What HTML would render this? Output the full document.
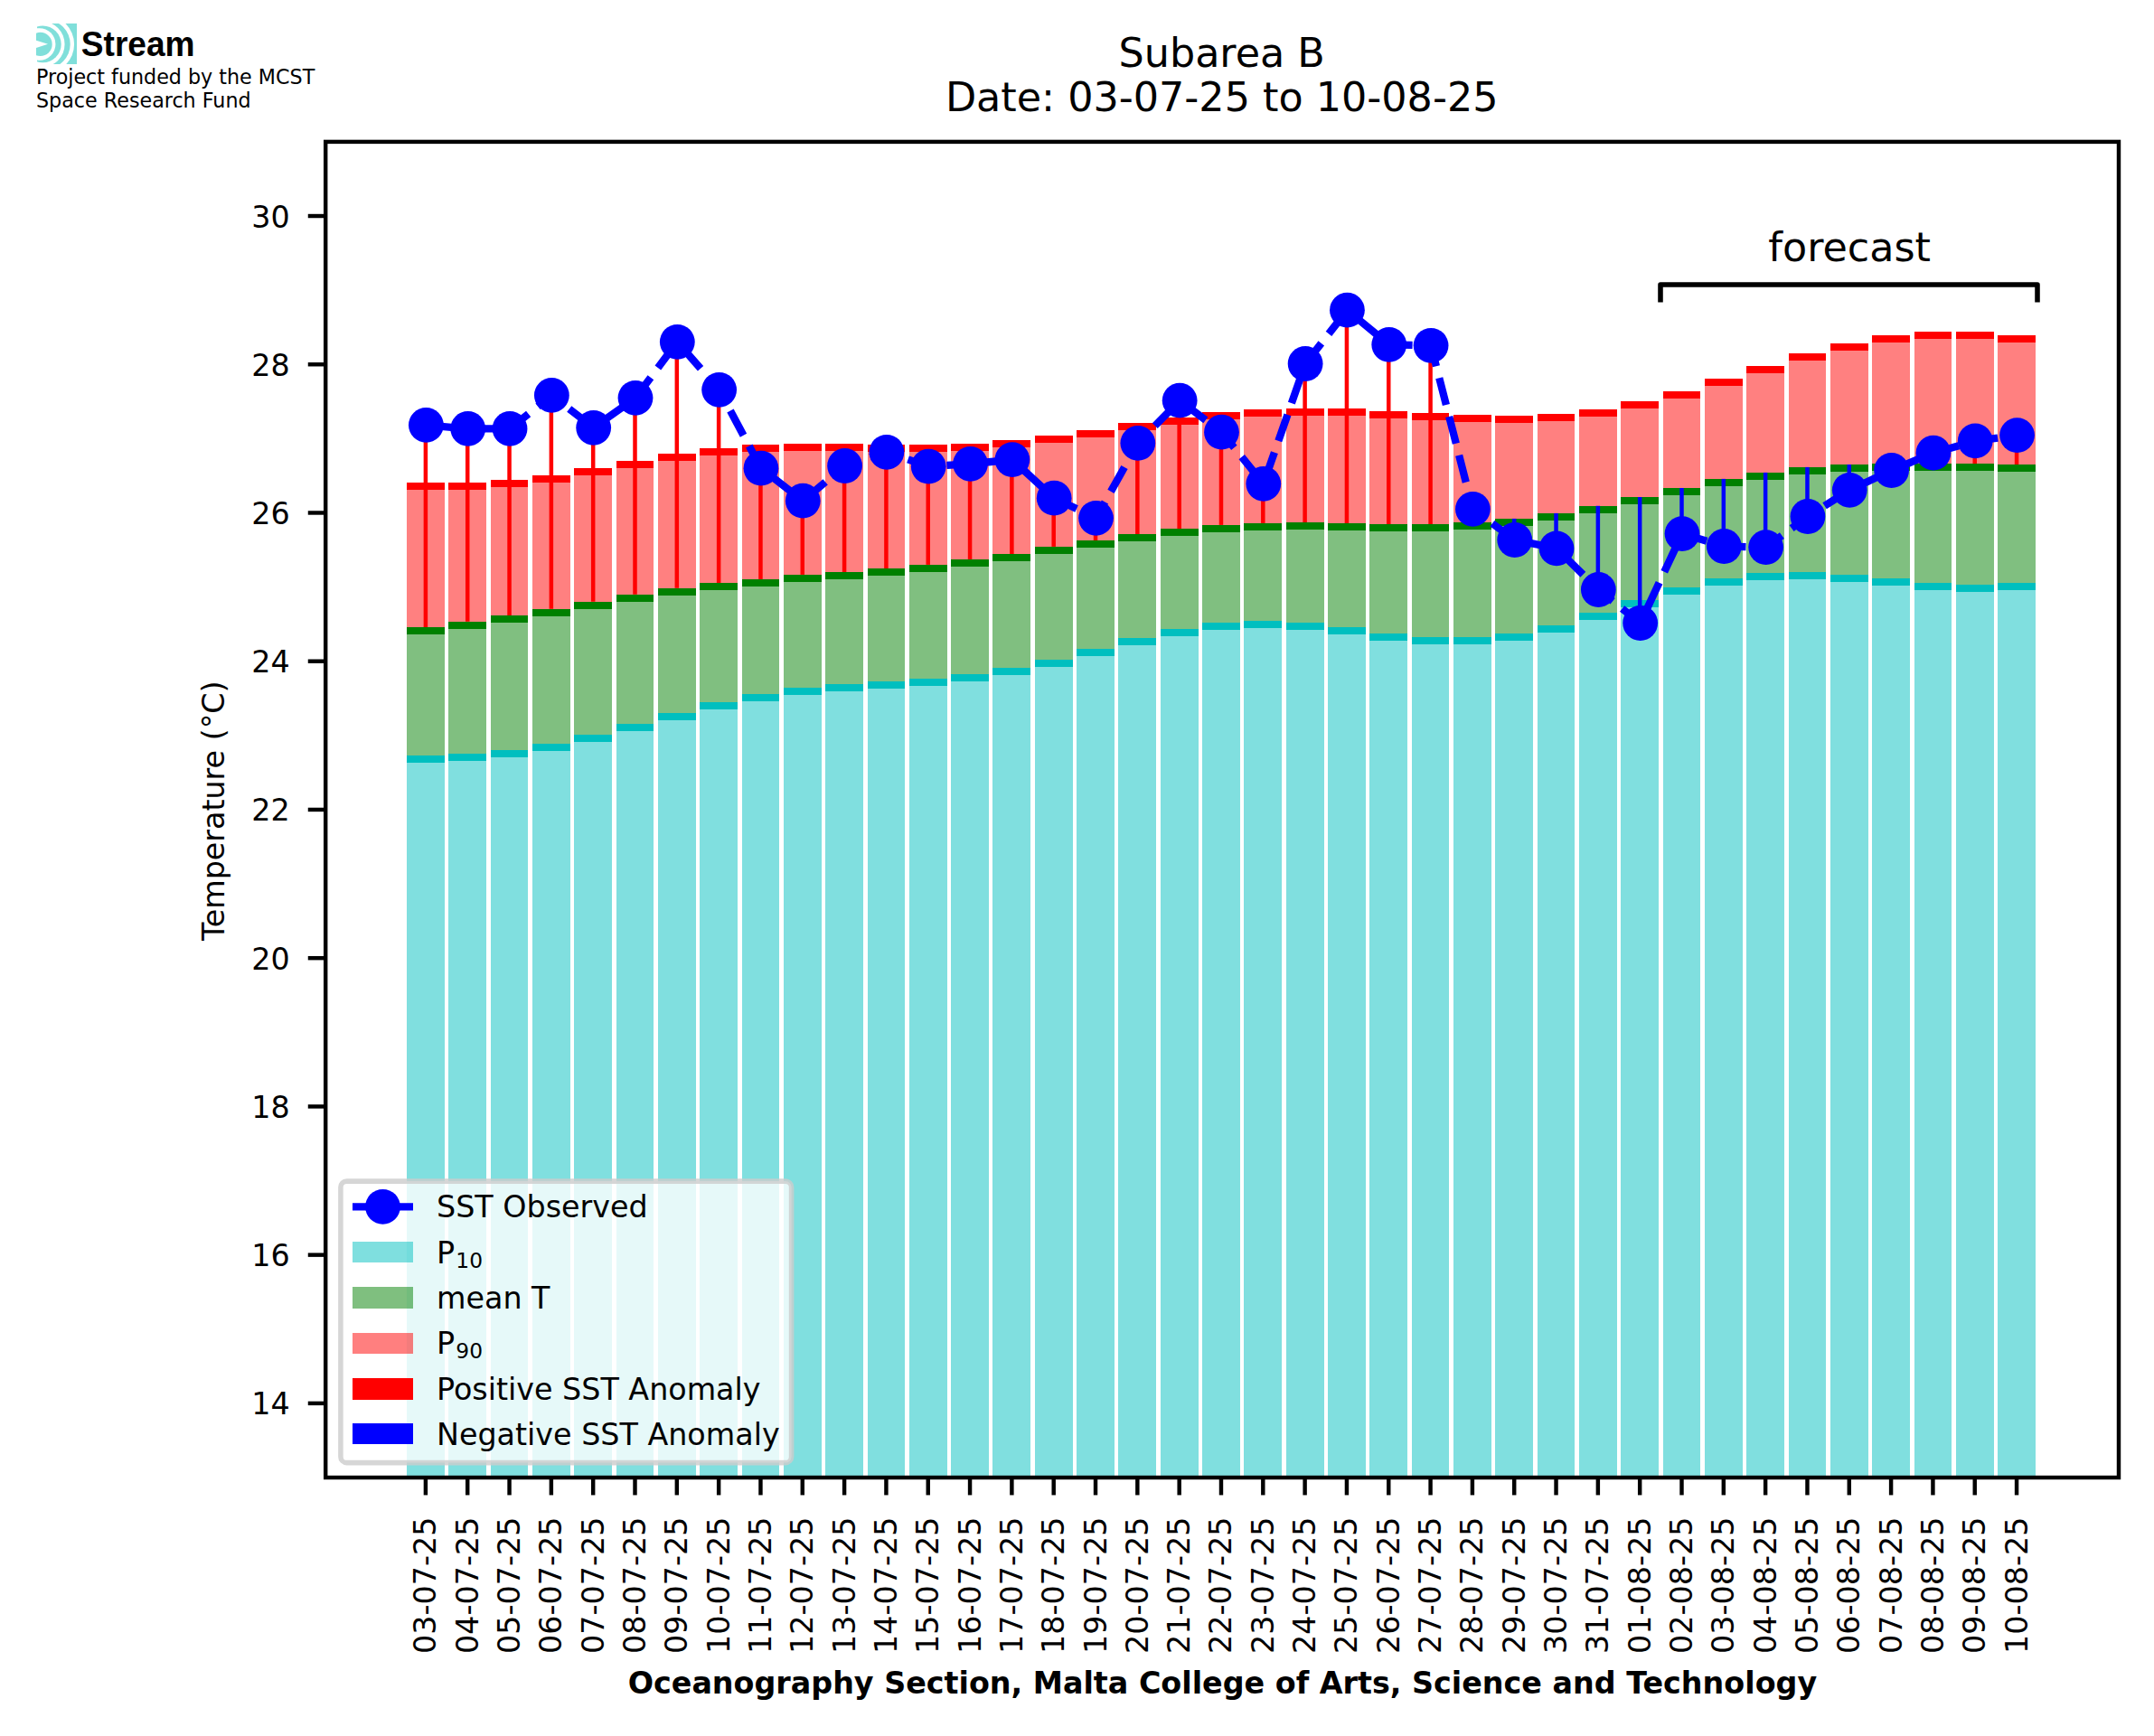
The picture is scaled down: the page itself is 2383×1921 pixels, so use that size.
<!DOCTYPE html>
<html lang="en"><head><meta charset="utf-8"><title>Subarea B SST</title>
<style>html,body{margin:0;padding:0;background:#fff;overflow:hidden}svg{display:block}text{font-family:"DejaVu Sans","Liberation Sans",sans-serif;fill:#000}.t6{font-size:33.33px}.t8{font-size:44.44px}.t4{font-size:22.22px}</style></head><body>
<svg width="2383" height="1921" viewBox="0 0 2383 1921">
<rect width="2383" height="1921" fill="#fff"/>
<defs><clipPath id="ax"><rect x="360.2" y="156.9" width="1983.8" height="1478.1"/></clipPath><clipPath id="lg"><rect x="40.1" y="26" width="44.9" height="45"/></clipPath><clipPath id="lg2"><rect x="40.9" y="26" width="44.1" height="45"/></clipPath></defs>
<g clip-path="url(#ax)" shape-rendering="crispEdges">
<rect x="450.00" y="844.00" width="41.80" height="796.00" fill="#80dfdf"/>
<rect x="450.00" y="835.80" width="41.80" height="8.20" fill="#00bfbf"/>
<rect x="450.00" y="702.10" width="41.80" height="133.70" fill="#80bf80"/>
<rect x="450.00" y="693.90" width="41.80" height="8.20" fill="#008000"/>
<rect x="450.00" y="542.20" width="41.80" height="151.70" fill="#ff8080"/>
<rect x="450.00" y="534.00" width="41.80" height="8.20" fill="#ff0000"/>
<rect x="496.32" y="842.00" width="41.80" height="798.00" fill="#80dfdf"/>
<rect x="496.32" y="833.80" width="41.80" height="8.20" fill="#00bfbf"/>
<rect x="496.32" y="696.00" width="41.80" height="137.80" fill="#80bf80"/>
<rect x="496.32" y="687.80" width="41.80" height="8.20" fill="#008000"/>
<rect x="496.32" y="542.20" width="41.80" height="145.60" fill="#ff8080"/>
<rect x="496.32" y="534.00" width="41.80" height="8.20" fill="#ff0000"/>
<rect x="542.64" y="838.10" width="41.80" height="801.90" fill="#80dfdf"/>
<rect x="542.64" y="829.90" width="41.80" height="8.20" fill="#00bfbf"/>
<rect x="542.64" y="689.30" width="41.80" height="140.60" fill="#80bf80"/>
<rect x="542.64" y="681.10" width="41.80" height="8.20" fill="#008000"/>
<rect x="542.64" y="539.20" width="41.80" height="141.90" fill="#ff8080"/>
<rect x="542.64" y="531.00" width="41.80" height="8.20" fill="#ff0000"/>
<rect x="588.96" y="831.20" width="41.80" height="808.80" fill="#80dfdf"/>
<rect x="588.96" y="823.00" width="41.80" height="8.20" fill="#00bfbf"/>
<rect x="588.96" y="681.90" width="41.80" height="141.10" fill="#80bf80"/>
<rect x="588.96" y="673.70" width="41.80" height="8.20" fill="#008000"/>
<rect x="588.96" y="534.10" width="41.80" height="139.60" fill="#ff8080"/>
<rect x="588.96" y="525.90" width="41.80" height="8.20" fill="#ff0000"/>
<rect x="635.28" y="821.10" width="41.80" height="818.90" fill="#80dfdf"/>
<rect x="635.28" y="812.90" width="41.80" height="8.20" fill="#00bfbf"/>
<rect x="635.28" y="674.00" width="41.80" height="138.90" fill="#80bf80"/>
<rect x="635.28" y="665.80" width="41.80" height="8.20" fill="#008000"/>
<rect x="635.28" y="526.20" width="41.80" height="139.60" fill="#ff8080"/>
<rect x="635.28" y="518.00" width="41.80" height="8.20" fill="#ff0000"/>
<rect x="681.60" y="809.10" width="41.80" height="830.90" fill="#80dfdf"/>
<rect x="681.60" y="800.90" width="41.80" height="8.20" fill="#00bfbf"/>
<rect x="681.60" y="665.90" width="41.80" height="135.00" fill="#80bf80"/>
<rect x="681.60" y="657.70" width="41.80" height="8.20" fill="#008000"/>
<rect x="681.60" y="518.10" width="41.80" height="139.60" fill="#ff8080"/>
<rect x="681.60" y="509.90" width="41.80" height="8.20" fill="#ff0000"/>
<rect x="727.92" y="797.20" width="41.80" height="842.80" fill="#80dfdf"/>
<rect x="727.92" y="789.00" width="41.80" height="8.20" fill="#00bfbf"/>
<rect x="727.92" y="659.00" width="41.80" height="130.00" fill="#80bf80"/>
<rect x="727.92" y="650.80" width="41.80" height="8.20" fill="#008000"/>
<rect x="727.92" y="510.30" width="41.80" height="140.50" fill="#ff8080"/>
<rect x="727.92" y="502.10" width="41.80" height="8.20" fill="#ff0000"/>
<rect x="774.24" y="785.20" width="41.80" height="854.80" fill="#80dfdf"/>
<rect x="774.24" y="777.00" width="41.80" height="8.20" fill="#00bfbf"/>
<rect x="774.24" y="653.10" width="41.80" height="123.90" fill="#80bf80"/>
<rect x="774.24" y="644.90" width="41.80" height="8.20" fill="#008000"/>
<rect x="774.24" y="504.20" width="41.80" height="140.70" fill="#ff8080"/>
<rect x="774.24" y="496.00" width="41.80" height="8.20" fill="#ff0000"/>
<rect x="820.56" y="776.30" width="41.80" height="863.70" fill="#80dfdf"/>
<rect x="820.56" y="768.10" width="41.80" height="8.20" fill="#00bfbf"/>
<rect x="820.56" y="649.10" width="41.80" height="119.00" fill="#80bf80"/>
<rect x="820.56" y="640.90" width="41.80" height="8.20" fill="#008000"/>
<rect x="820.56" y="499.90" width="41.80" height="141.00" fill="#ff8080"/>
<rect x="820.56" y="491.70" width="41.80" height="8.20" fill="#ff0000"/>
<rect x="866.88" y="769.00" width="41.80" height="871.00" fill="#80dfdf"/>
<rect x="866.88" y="760.80" width="41.80" height="8.20" fill="#00bfbf"/>
<rect x="866.88" y="644.10" width="41.80" height="116.70" fill="#80bf80"/>
<rect x="866.88" y="635.90" width="41.80" height="8.20" fill="#008000"/>
<rect x="866.88" y="499.00" width="41.80" height="136.90" fill="#ff8080"/>
<rect x="866.88" y="490.80" width="41.80" height="8.20" fill="#ff0000"/>
<rect x="913.20" y="765.10" width="41.80" height="874.90" fill="#80dfdf"/>
<rect x="913.20" y="756.90" width="41.80" height="8.20" fill="#00bfbf"/>
<rect x="913.20" y="641.20" width="41.80" height="115.70" fill="#80bf80"/>
<rect x="913.20" y="633.00" width="41.80" height="8.20" fill="#008000"/>
<rect x="913.20" y="499.25" width="41.80" height="133.75" fill="#ff8080"/>
<rect x="913.20" y="491.05" width="41.80" height="8.20" fill="#ff0000"/>
<rect x="959.52" y="762.10" width="41.80" height="877.90" fill="#80dfdf"/>
<rect x="959.52" y="753.90" width="41.80" height="8.20" fill="#00bfbf"/>
<rect x="959.52" y="637.20" width="41.80" height="116.70" fill="#80bf80"/>
<rect x="959.52" y="629.00" width="41.80" height="8.20" fill="#008000"/>
<rect x="959.52" y="500.10" width="41.80" height="128.90" fill="#ff8080"/>
<rect x="959.52" y="491.90" width="41.80" height="8.20" fill="#ff0000"/>
<rect x="1005.84" y="759.20" width="41.80" height="880.80" fill="#80dfdf"/>
<rect x="1005.84" y="751.00" width="41.80" height="8.20" fill="#00bfbf"/>
<rect x="1005.84" y="633.10" width="41.80" height="117.90" fill="#80bf80"/>
<rect x="1005.84" y="624.90" width="41.80" height="8.20" fill="#008000"/>
<rect x="1005.84" y="500.10" width="41.80" height="124.80" fill="#ff8080"/>
<rect x="1005.84" y="491.90" width="41.80" height="8.20" fill="#ff0000"/>
<rect x="1052.16" y="754.10" width="41.80" height="885.90" fill="#80dfdf"/>
<rect x="1052.16" y="745.90" width="41.80" height="8.20" fill="#00bfbf"/>
<rect x="1052.16" y="627.10" width="41.80" height="118.80" fill="#80bf80"/>
<rect x="1052.16" y="618.90" width="41.80" height="8.20" fill="#008000"/>
<rect x="1052.16" y="499.25" width="41.80" height="119.65" fill="#ff8080"/>
<rect x="1052.16" y="491.05" width="41.80" height="8.20" fill="#ff0000"/>
<rect x="1098.48" y="747.10" width="41.80" height="892.90" fill="#80dfdf"/>
<rect x="1098.48" y="738.90" width="41.80" height="8.20" fill="#00bfbf"/>
<rect x="1098.48" y="621.20" width="41.80" height="117.70" fill="#80bf80"/>
<rect x="1098.48" y="613.00" width="41.80" height="8.20" fill="#008000"/>
<rect x="1098.48" y="495.20" width="41.80" height="117.80" fill="#ff8080"/>
<rect x="1098.48" y="487.00" width="41.80" height="8.20" fill="#ff0000"/>
<rect x="1144.80" y="737.90" width="41.80" height="902.10" fill="#80dfdf"/>
<rect x="1144.80" y="729.70" width="41.80" height="8.20" fill="#00bfbf"/>
<rect x="1144.80" y="613.10" width="41.80" height="116.60" fill="#80bf80"/>
<rect x="1144.80" y="604.90" width="41.80" height="8.20" fill="#008000"/>
<rect x="1144.80" y="490.30" width="41.80" height="114.60" fill="#ff8080"/>
<rect x="1144.80" y="482.10" width="41.80" height="8.20" fill="#ff0000"/>
<rect x="1191.12" y="726.00" width="41.80" height="914.00" fill="#80dfdf"/>
<rect x="1191.12" y="717.80" width="41.80" height="8.20" fill="#00bfbf"/>
<rect x="1191.12" y="606.20" width="41.80" height="111.60" fill="#80bf80"/>
<rect x="1191.12" y="598.00" width="41.80" height="8.20" fill="#008000"/>
<rect x="1191.12" y="484.20" width="41.80" height="113.80" fill="#ff8080"/>
<rect x="1191.12" y="476.00" width="41.80" height="8.20" fill="#ff0000"/>
<rect x="1237.44" y="714.00" width="41.80" height="926.00" fill="#80dfdf"/>
<rect x="1237.44" y="705.80" width="41.80" height="8.20" fill="#00bfbf"/>
<rect x="1237.44" y="599.20" width="41.80" height="106.60" fill="#80bf80"/>
<rect x="1237.44" y="591.00" width="41.80" height="8.20" fill="#008000"/>
<rect x="1237.44" y="476.30" width="41.80" height="114.70" fill="#ff8080"/>
<rect x="1237.44" y="468.10" width="41.80" height="8.20" fill="#ff0000"/>
<rect x="1283.76" y="704.00" width="41.80" height="936.00" fill="#80dfdf"/>
<rect x="1283.76" y="695.80" width="41.80" height="8.20" fill="#00bfbf"/>
<rect x="1283.76" y="593.10" width="41.80" height="102.70" fill="#80bf80"/>
<rect x="1283.76" y="584.90" width="41.80" height="8.20" fill="#008000"/>
<rect x="1283.76" y="470.30" width="41.80" height="114.60" fill="#ff8080"/>
<rect x="1283.76" y="462.10" width="41.80" height="8.20" fill="#ff0000"/>
<rect x="1330.08" y="697.00" width="41.80" height="943.00" fill="#80dfdf"/>
<rect x="1330.08" y="688.80" width="41.80" height="8.20" fill="#00bfbf"/>
<rect x="1330.08" y="589.10" width="41.80" height="99.70" fill="#80bf80"/>
<rect x="1330.08" y="580.90" width="41.80" height="8.20" fill="#008000"/>
<rect x="1330.08" y="464.20" width="41.80" height="116.70" fill="#ff8080"/>
<rect x="1330.08" y="456.00" width="41.80" height="8.20" fill="#ff0000"/>
<rect x="1376.40" y="695.10" width="41.80" height="944.90" fill="#80dfdf"/>
<rect x="1376.40" y="686.90" width="41.80" height="8.20" fill="#00bfbf"/>
<rect x="1376.40" y="587.10" width="41.80" height="99.80" fill="#80bf80"/>
<rect x="1376.40" y="578.90" width="41.80" height="8.20" fill="#008000"/>
<rect x="1376.40" y="461.10" width="41.80" height="117.80" fill="#ff8080"/>
<rect x="1376.40" y="452.90" width="41.80" height="8.20" fill="#ff0000"/>
<rect x="1422.72" y="697.00" width="41.80" height="943.00" fill="#80dfdf"/>
<rect x="1422.72" y="688.80" width="41.80" height="8.20" fill="#00bfbf"/>
<rect x="1422.72" y="586.20" width="41.80" height="102.60" fill="#80bf80"/>
<rect x="1422.72" y="578.00" width="41.80" height="8.20" fill="#008000"/>
<rect x="1422.72" y="460.20" width="41.80" height="117.80" fill="#ff8080"/>
<rect x="1422.72" y="452.00" width="41.80" height="8.20" fill="#ff0000"/>
<rect x="1469.04" y="702.00" width="41.80" height="938.00" fill="#80dfdf"/>
<rect x="1469.04" y="693.80" width="41.80" height="8.20" fill="#00bfbf"/>
<rect x="1469.04" y="587.10" width="41.80" height="106.70" fill="#80bf80"/>
<rect x="1469.04" y="578.90" width="41.80" height="8.20" fill="#008000"/>
<rect x="1469.04" y="460.20" width="41.80" height="118.70" fill="#ff8080"/>
<rect x="1469.04" y="452.00" width="41.80" height="8.20" fill="#ff0000"/>
<rect x="1515.36" y="709.00" width="41.80" height="931.00" fill="#80dfdf"/>
<rect x="1515.36" y="700.80" width="41.80" height="8.20" fill="#00bfbf"/>
<rect x="1515.36" y="588.20" width="41.80" height="112.60" fill="#80bf80"/>
<rect x="1515.36" y="580.00" width="41.80" height="8.20" fill="#008000"/>
<rect x="1515.36" y="463.10" width="41.80" height="116.90" fill="#ff8080"/>
<rect x="1515.36" y="454.90" width="41.80" height="8.20" fill="#ff0000"/>
<rect x="1561.68" y="713.20" width="41.80" height="926.80" fill="#80dfdf"/>
<rect x="1561.68" y="705.00" width="41.80" height="8.20" fill="#00bfbf"/>
<rect x="1561.68" y="588.20" width="41.80" height="116.80" fill="#80bf80"/>
<rect x="1561.68" y="580.00" width="41.80" height="8.20" fill="#008000"/>
<rect x="1561.68" y="465.10" width="41.80" height="114.90" fill="#ff8080"/>
<rect x="1561.68" y="456.90" width="41.80" height="8.20" fill="#ff0000"/>
<rect x="1608.00" y="713.10" width="41.80" height="926.90" fill="#80dfdf"/>
<rect x="1608.00" y="704.90" width="41.80" height="8.20" fill="#00bfbf"/>
<rect x="1608.00" y="586.20" width="41.80" height="118.70" fill="#80bf80"/>
<rect x="1608.00" y="578.00" width="41.80" height="8.20" fill="#008000"/>
<rect x="1608.00" y="467.10" width="41.80" height="110.90" fill="#ff8080"/>
<rect x="1608.00" y="458.90" width="41.80" height="8.20" fill="#ff0000"/>
<rect x="1654.32" y="709.00" width="41.80" height="931.00" fill="#80dfdf"/>
<rect x="1654.32" y="700.80" width="41.80" height="8.20" fill="#00bfbf"/>
<rect x="1654.32" y="582.10" width="41.80" height="118.70" fill="#80bf80"/>
<rect x="1654.32" y="573.90" width="41.80" height="8.20" fill="#008000"/>
<rect x="1654.32" y="468.20" width="41.80" height="105.70" fill="#ff8080"/>
<rect x="1654.32" y="460.00" width="41.80" height="8.20" fill="#ff0000"/>
<rect x="1700.64" y="699.90" width="41.80" height="940.10" fill="#80dfdf"/>
<rect x="1700.64" y="691.70" width="41.80" height="8.20" fill="#00bfbf"/>
<rect x="1700.64" y="576.10" width="41.80" height="115.60" fill="#80bf80"/>
<rect x="1700.64" y="567.90" width="41.80" height="8.20" fill="#008000"/>
<rect x="1700.64" y="466.20" width="41.80" height="101.70" fill="#ff8080"/>
<rect x="1700.64" y="458.00" width="41.80" height="8.20" fill="#ff0000"/>
<rect x="1746.96" y="686.00" width="41.80" height="954.00" fill="#80dfdf"/>
<rect x="1746.96" y="677.80" width="41.80" height="8.20" fill="#00bfbf"/>
<rect x="1746.96" y="568.00" width="41.80" height="109.80" fill="#80bf80"/>
<rect x="1746.96" y="559.80" width="41.80" height="8.20" fill="#008000"/>
<rect x="1746.96" y="461.10" width="41.80" height="98.70" fill="#ff8080"/>
<rect x="1746.96" y="452.90" width="41.80" height="8.20" fill="#ff0000"/>
<rect x="1793.28" y="672.10" width="41.80" height="967.90" fill="#80dfdf"/>
<rect x="1793.28" y="663.90" width="41.80" height="8.20" fill="#00bfbf"/>
<rect x="1793.28" y="558.10" width="41.80" height="105.80" fill="#80bf80"/>
<rect x="1793.28" y="549.90" width="41.80" height="8.20" fill="#008000"/>
<rect x="1793.28" y="452.30" width="41.80" height="97.60" fill="#ff8080"/>
<rect x="1793.28" y="444.10" width="41.80" height="8.20" fill="#ff0000"/>
<rect x="1839.60" y="658.00" width="41.80" height="982.00" fill="#80dfdf"/>
<rect x="1839.60" y="649.80" width="41.80" height="8.20" fill="#00bfbf"/>
<rect x="1839.60" y="548.20" width="41.80" height="101.60" fill="#80bf80"/>
<rect x="1839.60" y="540.00" width="41.80" height="8.20" fill="#008000"/>
<rect x="1839.60" y="441.30" width="41.80" height="98.70" fill="#ff8080"/>
<rect x="1839.60" y="433.10" width="41.80" height="8.20" fill="#ff0000"/>
<rect x="1885.92" y="648.10" width="41.80" height="991.90" fill="#80dfdf"/>
<rect x="1885.92" y="639.90" width="41.80" height="8.20" fill="#00bfbf"/>
<rect x="1885.92" y="538.10" width="41.80" height="101.80" fill="#80bf80"/>
<rect x="1885.92" y="529.90" width="41.80" height="8.20" fill="#008000"/>
<rect x="1885.92" y="427.40" width="41.80" height="102.50" fill="#ff8080"/>
<rect x="1885.92" y="419.20" width="41.80" height="8.20" fill="#ff0000"/>
<rect x="1932.24" y="642.10" width="41.80" height="997.90" fill="#80dfdf"/>
<rect x="1932.24" y="633.90" width="41.80" height="8.20" fill="#00bfbf"/>
<rect x="1932.24" y="531.10" width="41.80" height="102.80" fill="#80bf80"/>
<rect x="1932.24" y="522.90" width="41.80" height="8.20" fill="#008000"/>
<rect x="1932.24" y="413.20" width="41.80" height="109.70" fill="#ff8080"/>
<rect x="1932.24" y="405.00" width="41.80" height="8.20" fill="#ff0000"/>
<rect x="1978.56" y="641.00" width="41.80" height="999.00" fill="#80dfdf"/>
<rect x="1978.56" y="632.80" width="41.80" height="8.20" fill="#00bfbf"/>
<rect x="1978.56" y="525.10" width="41.80" height="107.70" fill="#80bf80"/>
<rect x="1978.56" y="516.90" width="41.80" height="8.20" fill="#008000"/>
<rect x="1978.56" y="399.30" width="41.80" height="117.60" fill="#ff8080"/>
<rect x="1978.56" y="391.10" width="41.80" height="8.20" fill="#ff0000"/>
<rect x="2024.88" y="644.10" width="41.80" height="995.90" fill="#80dfdf"/>
<rect x="2024.88" y="635.90" width="41.80" height="8.20" fill="#00bfbf"/>
<rect x="2024.88" y="522.20" width="41.80" height="113.70" fill="#80bf80"/>
<rect x="2024.88" y="514.00" width="41.80" height="8.20" fill="#008000"/>
<rect x="2024.88" y="388.30" width="41.80" height="125.70" fill="#ff8080"/>
<rect x="2024.88" y="380.10" width="41.80" height="8.20" fill="#ff0000"/>
<rect x="2071.20" y="648.20" width="41.80" height="991.80" fill="#80dfdf"/>
<rect x="2071.20" y="640.00" width="41.80" height="8.20" fill="#00bfbf"/>
<rect x="2071.20" y="521.30" width="41.80" height="118.70" fill="#80bf80"/>
<rect x="2071.20" y="513.10" width="41.80" height="8.20" fill="#008000"/>
<rect x="2071.20" y="379.30" width="41.80" height="133.80" fill="#ff8080"/>
<rect x="2071.20" y="371.10" width="41.80" height="8.20" fill="#ff0000"/>
<rect x="2117.52" y="653.10" width="41.80" height="986.90" fill="#80dfdf"/>
<rect x="2117.52" y="644.90" width="41.80" height="8.20" fill="#00bfbf"/>
<rect x="2117.52" y="521.30" width="41.80" height="123.60" fill="#80bf80"/>
<rect x="2117.52" y="513.10" width="41.80" height="8.20" fill="#008000"/>
<rect x="2117.52" y="375.30" width="41.80" height="137.80" fill="#ff8080"/>
<rect x="2117.52" y="367.10" width="41.80" height="8.20" fill="#ff0000"/>
<rect x="2163.84" y="655.10" width="41.80" height="984.90" fill="#80dfdf"/>
<rect x="2163.84" y="646.90" width="41.80" height="8.20" fill="#00bfbf"/>
<rect x="2163.84" y="521.30" width="41.80" height="125.60" fill="#80bf80"/>
<rect x="2163.84" y="513.10" width="41.80" height="8.20" fill="#008000"/>
<rect x="2163.84" y="375.30" width="41.80" height="137.80" fill="#ff8080"/>
<rect x="2163.84" y="367.10" width="41.80" height="8.20" fill="#ff0000"/>
<rect x="2210.16" y="653.10" width="41.80" height="986.90" fill="#80dfdf"/>
<rect x="2210.16" y="644.90" width="41.80" height="8.20" fill="#00bfbf"/>
<rect x="2210.16" y="522.20" width="41.80" height="122.70" fill="#80bf80"/>
<rect x="2210.16" y="514.00" width="41.80" height="8.20" fill="#008000"/>
<rect x="2210.16" y="379.30" width="41.80" height="134.70" fill="#ff8080"/>
<rect x="2210.16" y="371.10" width="41.80" height="8.20" fill="#ff0000"/>
</g>
<g clip-path="url(#ax)" stroke-width="4.5" fill="none">
<line x1="470.90" y1="693.90" x2="470.90" y2="470.40" stroke="#ff0000"/>
<line x1="517.22" y1="687.80" x2="517.22" y2="474.40" stroke="#ff0000"/>
<line x1="563.54" y1="681.10" x2="563.54" y2="474.40" stroke="#ff0000"/>
<line x1="609.86" y1="673.70" x2="609.86" y2="437.40" stroke="#ff0000"/>
<line x1="656.18" y1="665.80" x2="656.18" y2="473.30" stroke="#ff0000"/>
<line x1="702.50" y1="657.70" x2="702.50" y2="440.30" stroke="#ff0000"/>
<line x1="748.82" y1="650.80" x2="748.82" y2="378.30" stroke="#ff0000"/>
<line x1="795.14" y1="644.90" x2="795.14" y2="431.30" stroke="#ff0000"/>
<line x1="841.46" y1="640.90" x2="841.46" y2="518.20" stroke="#ff0000"/>
<line x1="887.78" y1="635.90" x2="887.78" y2="554.20" stroke="#ff0000"/>
<line x1="934.10" y1="633.00" x2="934.10" y2="515.50" stroke="#ff0000"/>
<line x1="980.42" y1="629.00" x2="980.42" y2="500.30" stroke="#ff0000"/>
<line x1="1026.74" y1="624.90" x2="1026.74" y2="516.20" stroke="#ff0000"/>
<line x1="1073.06" y1="618.90" x2="1073.06" y2="513.30" stroke="#ff0000"/>
<line x1="1119.38" y1="613.00" x2="1119.38" y2="508.60" stroke="#ff0000"/>
<line x1="1165.70" y1="604.90" x2="1165.70" y2="551.20" stroke="#ff0000"/>
<line x1="1212.02" y1="598.00" x2="1212.02" y2="573.30" stroke="#ff0000"/>
<line x1="1258.34" y1="591.00" x2="1258.34" y2="490.40" stroke="#ff0000"/>
<line x1="1304.66" y1="584.90" x2="1304.66" y2="443.20" stroke="#ff0000"/>
<line x1="1350.98" y1="580.90" x2="1350.98" y2="478.20" stroke="#ff0000"/>
<line x1="1397.30" y1="578.90" x2="1397.30" y2="535.30" stroke="#ff0000"/>
<line x1="1443.62" y1="578.00" x2="1443.62" y2="402.50" stroke="#ff0000"/>
<line x1="1489.94" y1="578.90" x2="1489.94" y2="343.20" stroke="#ff0000"/>
<line x1="1536.26" y1="580.00" x2="1536.26" y2="381.40" stroke="#ff0000"/>
<line x1="1582.58" y1="580.00" x2="1582.58" y2="382.30" stroke="#ff0000"/>
<line x1="1628.90" y1="578.00" x2="1628.90" y2="563.40" stroke="#ff0000"/>
<line x1="1675.22" y1="573.90" x2="1675.22" y2="597.50" stroke="#0000ff"/>
<line x1="1721.54" y1="567.90" x2="1721.54" y2="606.90" stroke="#0000ff"/>
<line x1="1767.86" y1="559.80" x2="1767.86" y2="652.50" stroke="#0000ff"/>
<line x1="1814.18" y1="549.90" x2="1814.18" y2="689.50" stroke="#0000ff"/>
<line x1="1860.50" y1="540.00" x2="1860.50" y2="590.60" stroke="#0000ff"/>
<line x1="1906.82" y1="529.90" x2="1906.82" y2="604.50" stroke="#0000ff"/>
<line x1="1953.14" y1="522.90" x2="1953.14" y2="605.60" stroke="#0000ff"/>
<line x1="1999.46" y1="516.90" x2="1999.46" y2="571.50" stroke="#0000ff"/>
<line x1="2045.78" y1="514.00" x2="2045.78" y2="542.30" stroke="#0000ff"/>
<line x1="2092.10" y1="513.10" x2="2092.10" y2="520.50" stroke="#0000ff"/>
<line x1="2138.42" y1="513.10" x2="2138.42" y2="501.20" stroke="#ff0000"/>
<line x1="2184.74" y1="513.10" x2="2184.74" y2="487.90" stroke="#ff0000"/>
<line x1="2231.06" y1="514.00" x2="2231.06" y2="481.60" stroke="#ff0000"/>
</g>
<polyline points="471.40,470.40 517.72,474.40 564.04,474.40 610.36,437.40 656.68,473.30 703.00,440.30 749.32,378.30 795.64,431.30 841.96,518.20 888.28,554.20 934.60,515.50 980.92,500.30 1027.24,516.20 1073.56,513.30 1119.88,508.60 1166.20,551.20 1212.52,573.30 1258.84,490.40 1305.16,443.20 1351.48,478.20 1397.80,535.30 1444.12,402.50 1490.44,343.20 1536.76,381.40 1583.08,382.30 1629.40,563.40 1675.72,597.50 1722.04,606.90 1768.36,652.50 1814.68,689.50 1861.00,590.60 1907.32,604.50 1953.64,605.60 1999.96,571.50 2046.28,542.30 2092.60,520.50 2138.92,501.20 2185.24,487.90 2231.56,481.60" fill="none" stroke="#0000ff" stroke-width="8.33" stroke-dasharray="30.83 13.33" stroke-linejoin="round"/>
<g fill="#0000ff">
<circle cx="471.40" cy="470.40" r="19.4"/>
<circle cx="517.72" cy="474.40" r="19.4"/>
<circle cx="564.04" cy="474.40" r="19.4"/>
<circle cx="610.36" cy="437.40" r="19.4"/>
<circle cx="656.68" cy="473.30" r="19.4"/>
<circle cx="703.00" cy="440.30" r="19.4"/>
<circle cx="749.32" cy="378.30" r="19.4"/>
<circle cx="795.64" cy="431.30" r="19.4"/>
<circle cx="841.96" cy="518.20" r="19.4"/>
<circle cx="888.28" cy="554.20" r="19.4"/>
<circle cx="934.60" cy="515.50" r="19.4"/>
<circle cx="980.92" cy="500.30" r="19.4"/>
<circle cx="1027.24" cy="516.20" r="19.4"/>
<circle cx="1073.56" cy="513.30" r="19.4"/>
<circle cx="1119.88" cy="508.60" r="19.4"/>
<circle cx="1166.20" cy="551.20" r="19.4"/>
<circle cx="1212.52" cy="573.30" r="19.4"/>
<circle cx="1258.84" cy="490.40" r="19.4"/>
<circle cx="1305.16" cy="443.20" r="19.4"/>
<circle cx="1351.48" cy="478.20" r="19.4"/>
<circle cx="1397.80" cy="535.30" r="19.4"/>
<circle cx="1444.12" cy="402.50" r="19.4"/>
<circle cx="1490.44" cy="343.20" r="19.4"/>
<circle cx="1536.76" cy="381.40" r="19.4"/>
<circle cx="1583.08" cy="382.30" r="19.4"/>
<circle cx="1629.40" cy="563.40" r="19.4"/>
<circle cx="1675.72" cy="597.50" r="19.4"/>
<circle cx="1722.04" cy="606.90" r="19.4"/>
<circle cx="1768.36" cy="652.50" r="19.4"/>
<circle cx="1814.68" cy="689.50" r="19.4"/>
<circle cx="1861.00" cy="590.60" r="19.4"/>
<circle cx="1907.32" cy="604.50" r="19.4"/>
<circle cx="1953.64" cy="605.60" r="19.4"/>
<circle cx="1999.96" cy="571.50" r="19.4"/>
<circle cx="2046.28" cy="542.30" r="19.4"/>
<circle cx="2092.60" cy="520.50" r="19.4"/>
<circle cx="2138.92" cy="501.20" r="19.4"/>
<circle cx="2185.24" cy="487.90" r="19.4"/>
<circle cx="2231.56" cy="481.60" r="19.4"/>
</g>
<path d="M1837 334.4V315.05H2254V334.4" fill="none" stroke="#000" stroke-width="5.56" stroke-linejoin="round"/>
<text class="t8" x="2046.2" y="288.7" text-anchor="middle">forecast</text>
<rect x="360.2" y="156.9" width="1983.8" height="1478.1" fill="none" stroke="#000" stroke-width="4.44"/>
<g stroke="#000" stroke-width="4.44">
<line x1="470.90" y1="1635.0" x2="470.90" y2="1654.44"/>
<line x1="517.22" y1="1635.0" x2="517.22" y2="1654.44"/>
<line x1="563.54" y1="1635.0" x2="563.54" y2="1654.44"/>
<line x1="609.86" y1="1635.0" x2="609.86" y2="1654.44"/>
<line x1="656.18" y1="1635.0" x2="656.18" y2="1654.44"/>
<line x1="702.50" y1="1635.0" x2="702.50" y2="1654.44"/>
<line x1="748.82" y1="1635.0" x2="748.82" y2="1654.44"/>
<line x1="795.14" y1="1635.0" x2="795.14" y2="1654.44"/>
<line x1="841.46" y1="1635.0" x2="841.46" y2="1654.44"/>
<line x1="887.78" y1="1635.0" x2="887.78" y2="1654.44"/>
<line x1="934.10" y1="1635.0" x2="934.10" y2="1654.44"/>
<line x1="980.42" y1="1635.0" x2="980.42" y2="1654.44"/>
<line x1="1026.74" y1="1635.0" x2="1026.74" y2="1654.44"/>
<line x1="1073.06" y1="1635.0" x2="1073.06" y2="1654.44"/>
<line x1="1119.38" y1="1635.0" x2="1119.38" y2="1654.44"/>
<line x1="1165.70" y1="1635.0" x2="1165.70" y2="1654.44"/>
<line x1="1212.02" y1="1635.0" x2="1212.02" y2="1654.44"/>
<line x1="1258.34" y1="1635.0" x2="1258.34" y2="1654.44"/>
<line x1="1304.66" y1="1635.0" x2="1304.66" y2="1654.44"/>
<line x1="1350.98" y1="1635.0" x2="1350.98" y2="1654.44"/>
<line x1="1397.30" y1="1635.0" x2="1397.30" y2="1654.44"/>
<line x1="1443.62" y1="1635.0" x2="1443.62" y2="1654.44"/>
<line x1="1489.94" y1="1635.0" x2="1489.94" y2="1654.44"/>
<line x1="1536.26" y1="1635.0" x2="1536.26" y2="1654.44"/>
<line x1="1582.58" y1="1635.0" x2="1582.58" y2="1654.44"/>
<line x1="1628.90" y1="1635.0" x2="1628.90" y2="1654.44"/>
<line x1="1675.22" y1="1635.0" x2="1675.22" y2="1654.44"/>
<line x1="1721.54" y1="1635.0" x2="1721.54" y2="1654.44"/>
<line x1="1767.86" y1="1635.0" x2="1767.86" y2="1654.44"/>
<line x1="1814.18" y1="1635.0" x2="1814.18" y2="1654.44"/>
<line x1="1860.50" y1="1635.0" x2="1860.50" y2="1654.44"/>
<line x1="1906.82" y1="1635.0" x2="1906.82" y2="1654.44"/>
<line x1="1953.14" y1="1635.0" x2="1953.14" y2="1654.44"/>
<line x1="1999.46" y1="1635.0" x2="1999.46" y2="1654.44"/>
<line x1="2045.78" y1="1635.0" x2="2045.78" y2="1654.44"/>
<line x1="2092.10" y1="1635.0" x2="2092.10" y2="1654.44"/>
<line x1="2138.42" y1="1635.0" x2="2138.42" y2="1654.44"/>
<line x1="2184.74" y1="1635.0" x2="2184.74" y2="1654.44"/>
<line x1="2231.06" y1="1635.0" x2="2231.06" y2="1654.44"/>
<line x1="360.2" y1="1552.88" x2="340.76" y2="1552.88"/>
<line x1="360.2" y1="1388.65" x2="340.76" y2="1388.65"/>
<line x1="360.2" y1="1224.42" x2="340.76" y2="1224.42"/>
<line x1="360.2" y1="1060.18" x2="340.76" y2="1060.18"/>
<line x1="360.2" y1="895.95" x2="340.76" y2="895.95"/>
<line x1="360.2" y1="731.72" x2="340.76" y2="731.72"/>
<line x1="360.2" y1="567.48" x2="340.76" y2="567.48"/>
<line x1="360.2" y1="403.25" x2="340.76" y2="403.25"/>
<line x1="360.2" y1="239.02" x2="340.76" y2="239.02"/>
</g>
<g class="t6">
<text x="320.6" y="1565.38" text-anchor="end">14</text>
<text x="320.6" y="1401.15" text-anchor="end">16</text>
<text x="320.6" y="1236.92" text-anchor="end">18</text>
<text x="320.6" y="1072.68" text-anchor="end">20</text>
<text x="320.6" y="908.45" text-anchor="end">22</text>
<text x="320.6" y="744.22" text-anchor="end">24</text>
<text x="320.6" y="579.98" text-anchor="end">26</text>
<text x="320.6" y="415.75" text-anchor="end">28</text>
<text x="320.6" y="251.52" text-anchor="end">30</text>
<text transform="translate(482.40 1829.9) rotate(-90)">03-07-25</text>
<text transform="translate(528.72 1829.9) rotate(-90)">04-07-25</text>
<text transform="translate(575.04 1829.9) rotate(-90)">05-07-25</text>
<text transform="translate(621.36 1829.9) rotate(-90)">06-07-25</text>
<text transform="translate(667.68 1829.9) rotate(-90)">07-07-25</text>
<text transform="translate(714.00 1829.9) rotate(-90)">08-07-25</text>
<text transform="translate(760.32 1829.9) rotate(-90)">09-07-25</text>
<text transform="translate(806.64 1829.9) rotate(-90)">10-07-25</text>
<text transform="translate(852.96 1829.9) rotate(-90)">11-07-25</text>
<text transform="translate(899.28 1829.9) rotate(-90)">12-07-25</text>
<text transform="translate(945.60 1829.9) rotate(-90)">13-07-25</text>
<text transform="translate(991.92 1829.9) rotate(-90)">14-07-25</text>
<text transform="translate(1038.24 1829.9) rotate(-90)">15-07-25</text>
<text transform="translate(1084.56 1829.9) rotate(-90)">16-07-25</text>
<text transform="translate(1130.88 1829.9) rotate(-90)">17-07-25</text>
<text transform="translate(1177.20 1829.9) rotate(-90)">18-07-25</text>
<text transform="translate(1223.52 1829.9) rotate(-90)">19-07-25</text>
<text transform="translate(1269.84 1829.9) rotate(-90)">20-07-25</text>
<text transform="translate(1316.16 1829.9) rotate(-90)">21-07-25</text>
<text transform="translate(1362.48 1829.9) rotate(-90)">22-07-25</text>
<text transform="translate(1408.80 1829.9) rotate(-90)">23-07-25</text>
<text transform="translate(1455.12 1829.9) rotate(-90)">24-07-25</text>
<text transform="translate(1501.44 1829.9) rotate(-90)">25-07-25</text>
<text transform="translate(1547.76 1829.9) rotate(-90)">26-07-25</text>
<text transform="translate(1594.08 1829.9) rotate(-90)">27-07-25</text>
<text transform="translate(1640.40 1829.9) rotate(-90)">28-07-25</text>
<text transform="translate(1686.72 1829.9) rotate(-90)">29-07-25</text>
<text transform="translate(1733.04 1829.9) rotate(-90)">30-07-25</text>
<text transform="translate(1779.36 1829.9) rotate(-90)">31-07-25</text>
<text transform="translate(1825.68 1829.9) rotate(-90)">01-08-25</text>
<text transform="translate(1872.00 1829.9) rotate(-90)">02-08-25</text>
<text transform="translate(1918.32 1829.9) rotate(-90)">03-08-25</text>
<text transform="translate(1964.64 1829.9) rotate(-90)">04-08-25</text>
<text transform="translate(2010.96 1829.9) rotate(-90)">05-08-25</text>
<text transform="translate(2057.28 1829.9) rotate(-90)">06-08-25</text>
<text transform="translate(2103.60 1829.9) rotate(-90)">07-08-25</text>
<text transform="translate(2149.92 1829.9) rotate(-90)">08-08-25</text>
<text transform="translate(2196.24 1829.9) rotate(-90)">09-08-25</text>
<text transform="translate(2242.56 1829.9) rotate(-90)">10-08-25</text>
</g>
<text class="t6" transform="translate(248.4 897.2) rotate(-90)" text-anchor="middle">Temperature (°C)</text>
<text class="t6" x="1352.4" y="1873.8" text-anchor="middle" font-weight="bold">Oceanography Section, Malta College of Arts, Science and Technology</text>
<text class="t8" x="1351.7" y="73.7" text-anchor="middle">Subarea B</text>
<text class="t8" x="1351.7" y="123.05" text-anchor="middle">Date: 03-07-25 to 10-08-25</text>
<rect x="376.9" y="1307.1" width="498.7" height="311.5" rx="6.67" ry="6.67" fill="#fff" fill-opacity="0.8" stroke="#ccc" stroke-opacity="0.8" stroke-width="5.56"/>
<line x1="390" y1="1335.3" x2="457" y2="1335.3" stroke="#0000ff" stroke-width="8.33" stroke-dasharray="30.83 13.33"/>
<circle cx="423.5" cy="1335.3" r="19.4" fill="#0000ff"/>
<rect x="390" y="1373.93" width="67" height="23.33" fill="#00bfbf" fill-opacity="0.5" shape-rendering="crispEdges"/>
<rect x="390" y="1424.33" width="67" height="23.33" fill="#008000" fill-opacity="0.5" shape-rendering="crispEdges"/>
<rect x="390" y="1474.83" width="67" height="23.33" fill="#ff0000" fill-opacity="0.5" shape-rendering="crispEdges"/>
<rect x="390" y="1525.23" width="67" height="23.33" fill="#ff0000" fill-opacity="1" shape-rendering="crispEdges"/>
<rect x="390" y="1574.63" width="67" height="23.33" fill="#0000ff" fill-opacity="1" shape-rendering="crispEdges"/>
<g class="t6">
<text x="483.0" y="1347.2">SST Observed</text>
<text x="483.0" y="1397.5">P<tspan font-size="23.33px" dx="1.2" dy="5.1">10</tspan></text>
<text x="483.0" y="1447.9">mean T</text>
<text x="483.0" y="1498.2">P<tspan font-size="23.33px" dx="1.2" dy="5.1">90</tspan></text>
<text x="483.0" y="1548.7">Positive SST Anomaly</text>
<text x="483.0" y="1598.6">Negative SST Anomaly</text>
</g>
<g clip-path="url(#lg)">
<rect x="40" y="26" width="45" height="45" fill="#80dfda"/>
<circle cx="49.97" cy="48.94" r="32.1" fill="#fff"/>
<circle cx="50.64" cy="48.94" r="27.06" fill="#80dfda"/>
<circle cx="46.15" cy="48.94" r="25.42" fill="#fff"/>
<rect x="40" y="26" width="0.9" height="45" fill="#fff"/>
<g clip-path="url(#lg2)"><circle cx="47.32" cy="48.94" r="20.39" fill="#80dfda"/>
<circle cx="43.61" cy="48.94" r="17.81" fill="#fff"/></g>
<circle cx="44.65" cy="48.9" r="13.06" fill="#80dfda"/>
<path d="M40 44.84L53.03 48.87L40 52.9Z" fill="#fff"/>
</g>
<text x="89.8" y="61.8" font-size="39px" font-weight="bold" style="font-family:'Liberation Sans',sans-serif" textLength="125.8" lengthAdjust="spacingAndGlyphs">Stream</text>
<text class="t4" x="40.0" y="92.8">Project funded by the MCST</text>
<text class="t4" x="40.0" y="118.5">Space Research Fund</text>
</svg></body></html>
